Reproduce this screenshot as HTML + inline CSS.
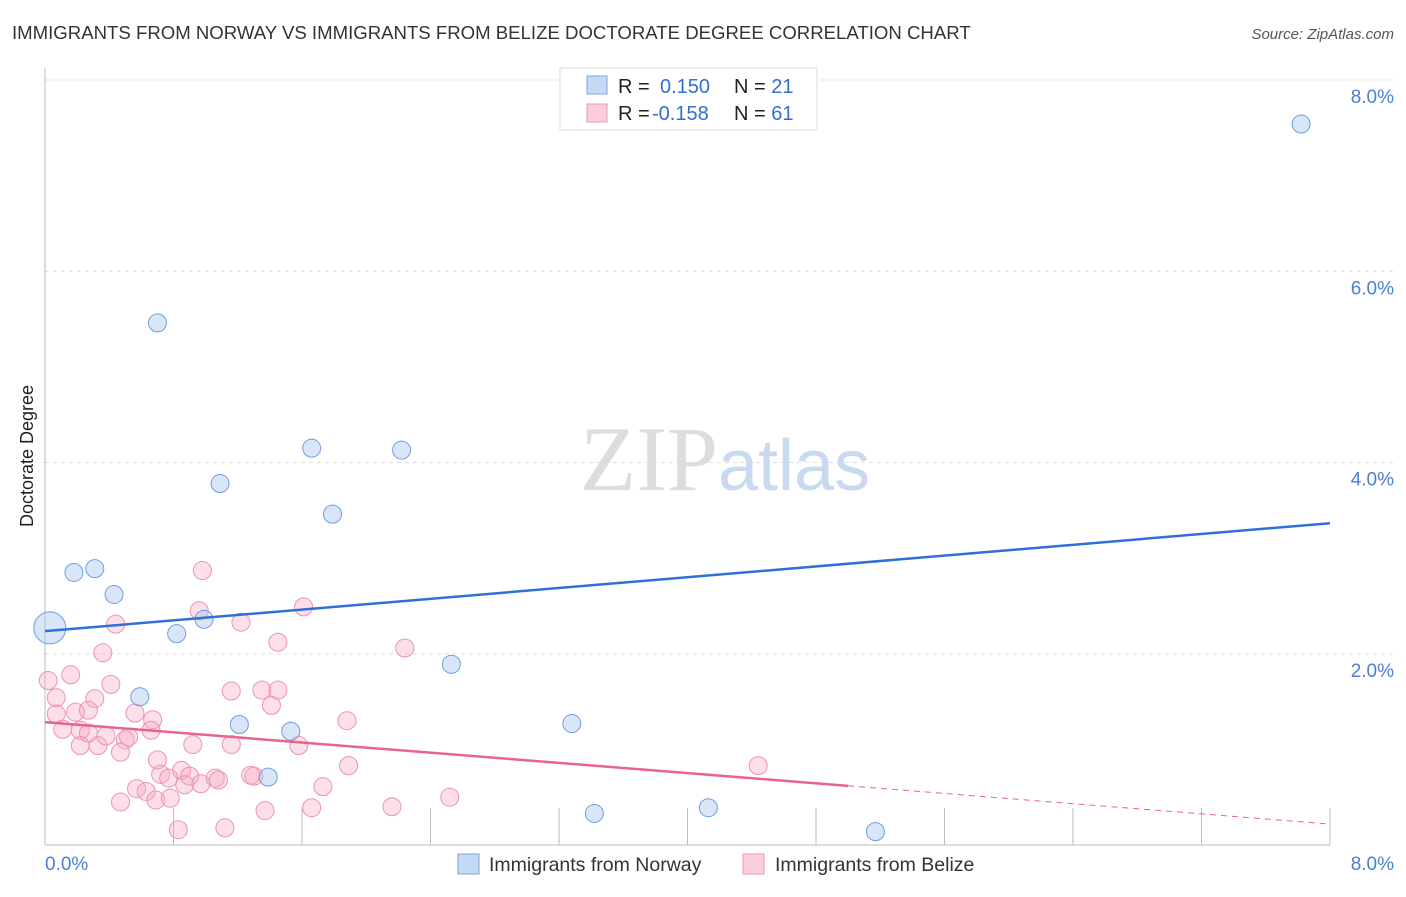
<!DOCTYPE html>
<html><head><meta charset="utf-8"><style>
body{margin:0;background:#fff;font-family:"Liberation Sans",sans-serif}
</style></head><body>
<svg width="1406" height="892" xmlns="http://www.w3.org/2000/svg" id="chart">
<text x="12" y="39" font-size="18.6" fill="#333">IMMIGRANTS FROM NORWAY VS IMMIGRANTS FROM BELIZE DOCTORATE DEGREE CORRELATION CHART</text>
<text x="1394" y="39" font-size="15" fill="#555" font-style="italic" text-anchor="end">Source: ZipAtlas.com</text>
<g id="grid"></g>
<g id="ticks"></g>
<text x="718" y="490" font-size="92" fill="#ddd" text-anchor="end" font-family="Liberation Serif">ZIP</text>
<text x="718" y="490" font-size="72" fill="#c9daf0">atlas</text>
<line x1="45" y1="68" x2="45" y2="845" stroke="#bbb"/>
<line x1="45" y1="845" x2="1330" y2="845" stroke="#bbb"/>
<g id="pts"></g>
<g id="lines"></g>
<text x="45" y="870" font-size="19" fill="#4a7fd4">0.0%</text>
<text x="1394" y="870" font-size="19" fill="#4a7fd4" text-anchor="end">8.0%</text>
<text transform="translate(33,456) rotate(-90)" font-size="18" fill="#222" text-anchor="middle">Doctorate Degree</text>
<g>
<rect x="560" y="68" width="257" height="62" fill="#fff" stroke="#ddd"/>
<rect x="587" y="76" width="20" height="18" fill="#c5d9f3" stroke="#7aa6e0"/>
<rect x="587" y="104" width="20" height="18" fill="#f9cdd9" stroke="#ee9ab3"/>
<text x="618" y="93" font-size="20" fill="#222">R = <tspan fill="#2f6fd6" x="660">0.150</tspan><tspan x="734" fill="#222">N = </tspan><tspan fill="#2f6fd6">21</tspan></text>
<text x="618" y="120" font-size="20" fill="#222">R = <tspan fill="#2f6fd6" x="652">-0.158</tspan><tspan x="734" fill="#222">N = </tspan><tspan fill="#2f6fd6">61</tspan></text>
</g>
<g>
<rect x="458" y="854" width="21" height="20" fill="#c5d9f3" stroke="#7aa6e0"/>
<text x="489" y="871" font-size="19.5" fill="#333">Immigrants from Norway</text>
<rect x="743" y="854" width="21" height="20" fill="#f9cdd9" stroke="#ee9ab3"/>
<text x="775" y="871" font-size="19.5" fill="#333">Immigrants from Belize</text>
</g>
</svg>
<script>
const yTicks=[2,4,6,8];
const yTickLabels=["2.0%","4.0%","6.0%","8.0%"];
const norwayX=[7.82,0.70,1.66,2.22,1.09,1.79,0.18,0.31,0.43,0.03,0.82,0.99,0.59,2.53,1.21,1.53,3.28,1.39,3.42,4.13,5.17];
const norwayY=[7.54,5.46,4.15,4.13,3.78,3.46,2.85,2.89,2.62,2.27,2.21,2.36,1.55,1.89,1.26,1.19,1.27,0.71,0.33,0.39,0.14];
const belizeX=[0.98,0.96,1.61,0.44,1.22,1.45,2.24,0.36,0.02,0.16,0.07,0.31,0.41,1.16,1.35,0.07,0.19,0.27,0.56,0.11,0.22,0.33,0.27,0.38,0.50,0.67,0.66,0.22,0.47,0.52,1.88,1.58,0.92,1.16,1.41,1.45,0.70,0.85,0.72,0.77,0.90,0.87,0.97,1.06,1.08,1.30,1.28,0.57,0.63,0.69,0.78,0.47,1.73,1.89,1.37,1.66,2.16,2.52,0.83,1.12,4.44];
const belizeY=[2.87,2.45,2.49,2.31,2.33,2.12,2.06,2.01,1.72,1.78,1.54,1.53,1.68,1.61,1.62,1.37,1.39,1.41,1.38,1.21,1.20,1.04,1.17,1.14,1.10,1.31,1.20,1.04,0.97,1.13,1.30,1.04,1.05,1.05,1.46,1.62,0.89,0.78,0.74,0.70,0.72,0.63,0.64,0.70,0.68,0.72,0.73,0.59,0.56,0.47,0.49,0.45,0.61,0.83,0.36,0.39,0.40,0.50,0.16,0.18,0.83];
const norwaySize=[9,9,9,9,9,9,9,9,9,16,9,9,9,9,9,9,9,9,9,9,9];
const trendNorway=[2.236,3.365];
const trendBelize=[1.285,0.219];
const belizeSolidEnd=5.0;
const NS='http://www.w3.org/2000/svg';
const X0=45,X1=1330,Y0=845,Y8=80;
const sx=v=>X0+(X1-X0)*v/8, sy=v=>Y0-(Y0-Y8)*v/8;
function mk(tag,attrs,parent){const e=document.createElementNS(NS,tag);for(const k in attrs)e.setAttribute(k,attrs[k]);parent.appendChild(e);return e;}
const grid=document.getElementById('grid');
yTicks.forEach((t,i)=>{
 const l=mk('line',{x1:45,x2:1394,y1:sy(t),y2:sy(t),stroke:'#ddd','stroke-dasharray':'4,4'},grid);
 
 
 const tx=mk('text',{x:1394,y:sy(t)+23,'font-size':19,fill:'#4a7fd4','text-anchor':'end'},grid);
 tx.textContent=yTickLabels[i];
 
 
});
const tk=document.getElementById('ticks');
for(let i=1;i<=10;i++){const l=mk('line',{x1:sx(i*0.8),x2:sx(i*0.8),y1:808,y2:845,stroke:'#bbb'},tk);
 
 }
const pts=document.getElementById('pts');
belizeX.forEach((x,i)=>{const c=mk('circle',{cx:sx(x),cy:sy(belizeY[i]),r:9,fill:'rgba(246,170,195,0.38)',stroke:'#ec94b0','stroke-width':1},pts);
 
 });
norwayX.forEach((x,i)=>{const c=mk('circle',{cx:sx(x),cy:sy(norwayY[i]),r:norwaySize[i],fill:'rgba(170,200,240,0.45)',stroke:'#6e9ee0','stroke-width':1},pts);
 
 });
const ln=document.getElementById('lines');
const bl=mk('line',{x1:sx(0),y1:sy(trendNorway[0]),x2:sx(8),y2:sy(trendNorway[1]),stroke:'#2f6fd6','stroke-width':2.5},ln);


const yb=x=>trendBelize[0]+(trendBelize[1]-trendBelize[0])*x/8;
const pl=mk('line',{x1:sx(0),y1:sy(yb(0)),x2:sx(belizeSolidEnd),y2:sy(yb(belizeSolidEnd)),stroke:'#e8648f','stroke-width':2.5},ln);


const pd=mk('line',{x1:sx(belizeSolidEnd),y1:sy(yb(belizeSolidEnd)),x2:sx(8),y2:sy(yb(8)),stroke:'#e8648f','stroke-width':1,'stroke-dasharray':'6,5'},ln);


</script>
</body></html>
